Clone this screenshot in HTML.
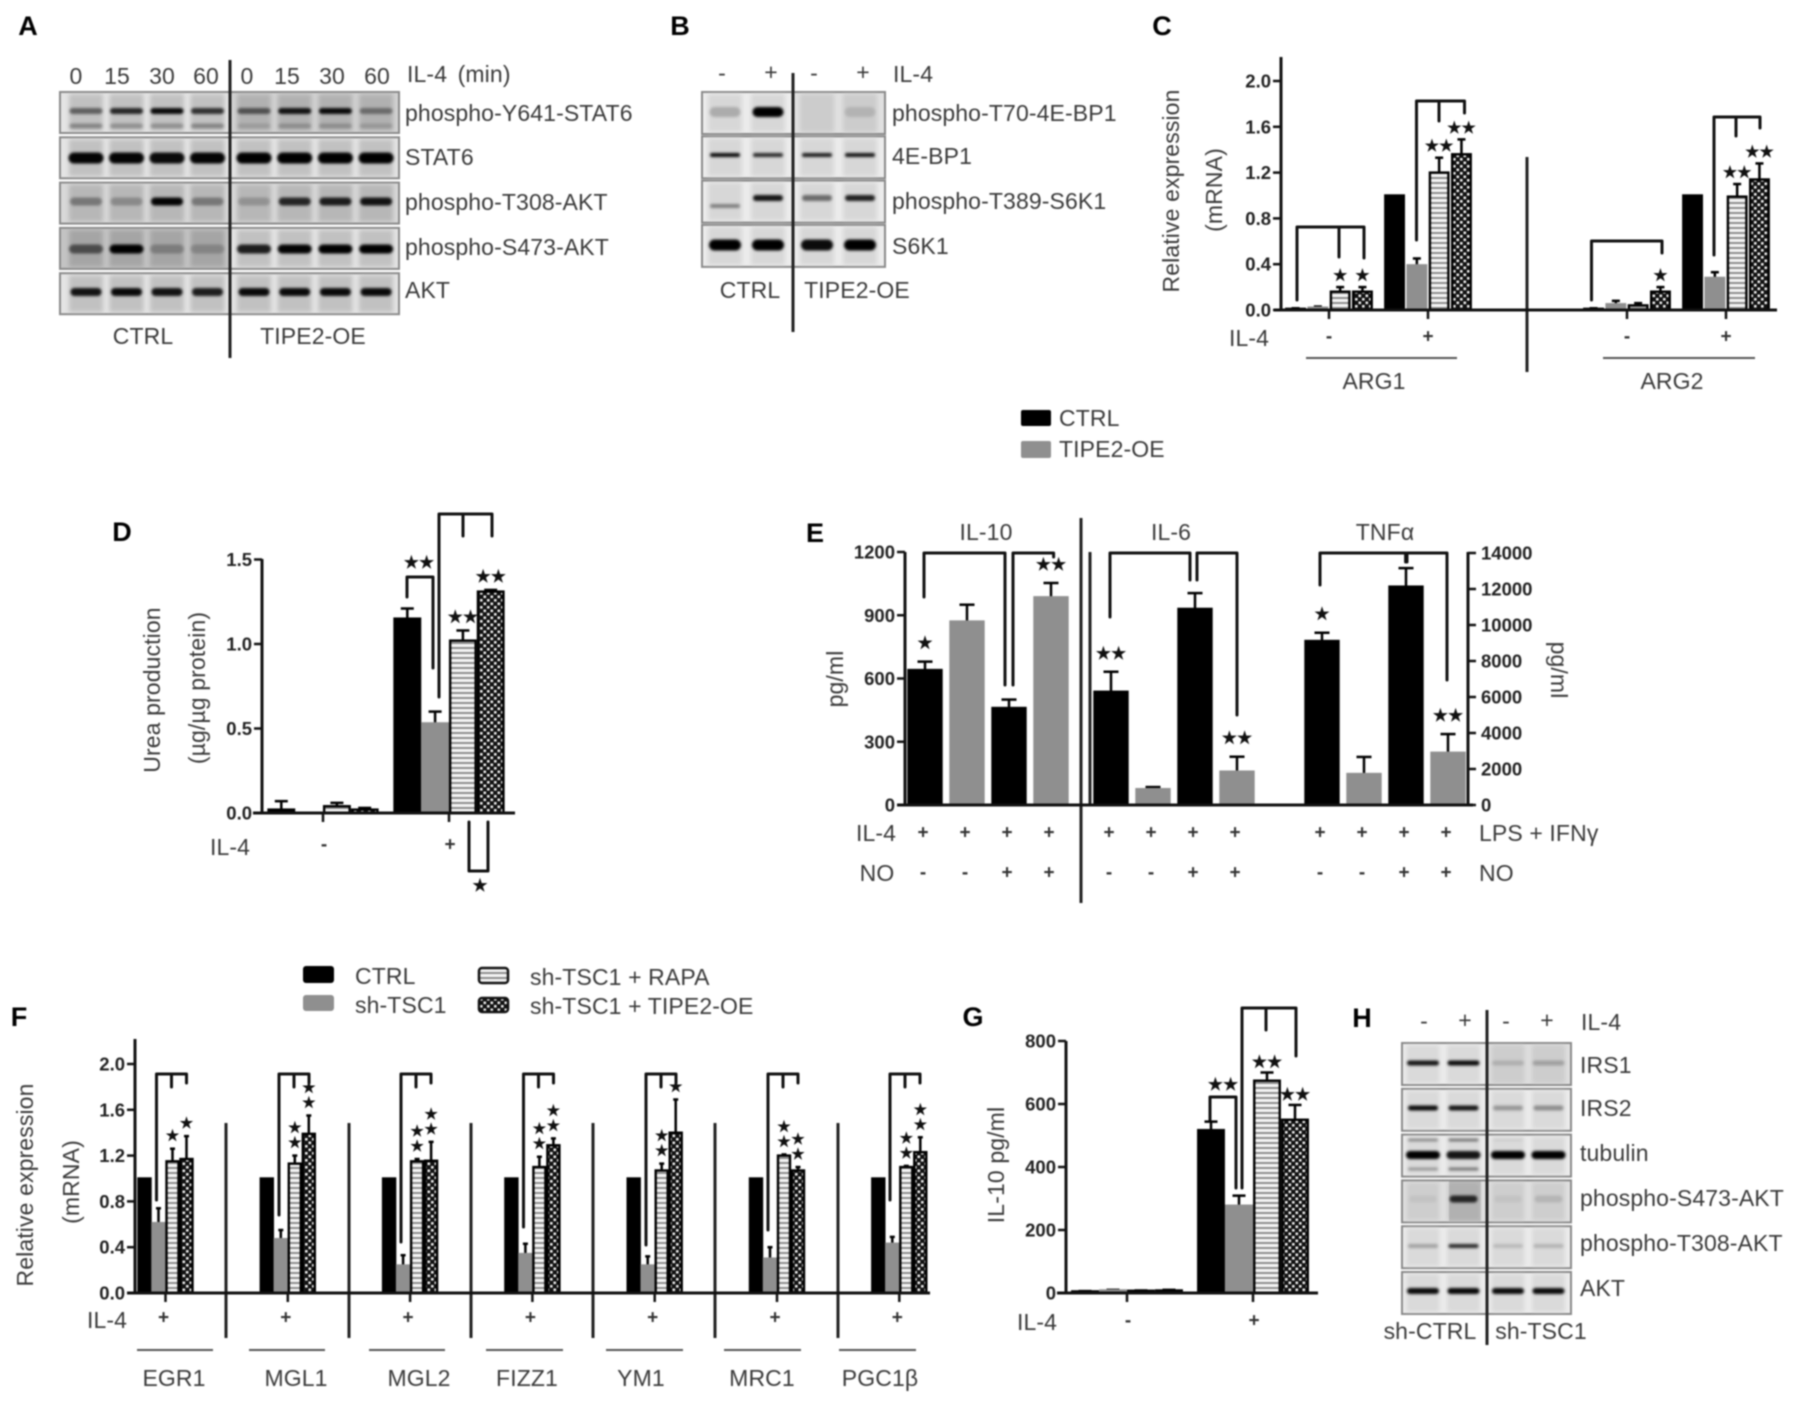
<!DOCTYPE html>
<html lang="en">
<head>
<meta charset="utf-8">
<title>TIPE2 figure panels A-H</title>
<style>
html,body{margin:0;padding:0;background:#fff;width:1795px;height:1403px;overflow:hidden}
svg{display:block;filter:blur(0.75px)}
text{font-family:"Liberation Sans",sans-serif;dominant-baseline:central;fill:#3a3a3a}
.l{font-size:23px;letter-spacing:0.12px}
.m{text-anchor:middle}
.e{text-anchor:end}
.p{font-size:27px;font-weight:bold;fill:#000;text-anchor:middle}
.t{font-size:18.5px;font-weight:bold;fill:#222;text-anchor:end}
.tm{font-size:19px;font-weight:bold;fill:#333;text-anchor:middle}
.s{font-family:"DejaVu Sans",sans-serif;font-size:16px;fill:#111;stroke:#111;stroke-width:0.6;text-anchor:middle}
.b{fill:none;stroke:#111;stroke-width:3;stroke-linejoin:round;stroke-linecap:round}
.d{stroke:#222;stroke-width:3;fill:none}
.u{stroke:#555;stroke-width:2;fill:none}
</style>
</head>
<body>
<svg id="fig" xmlns="http://www.w3.org/2000/svg" width="1795" height="1403" viewBox="0 0 1795 1403">
<defs>
<filter id="bandBlur" x="-20%" y="-100%" width="140%" height="300%"><feGaussianBlur stdDeviation="1.3"/></filter>
<filter id="laneBlur" x="-20%" y="-5%" width="140%" height="110%"><feGaussianBlur stdDeviation="2"/></filter>
<pattern id="stripes" width="5" height="5" patternUnits="userSpaceOnUse"><rect width="5" height="5" fill="#f4f4f4"/><rect y="2" width="5" height="2" fill="#8d8d8d"/></pattern>
<pattern id="checks" width="7" height="7" patternUnits="userSpaceOnUse"><rect width="7" height="7" fill="#111"/><rect x="0.5" y="0.5" width="2.6" height="2.6" fill="#eee"/><rect x="4" y="4" width="2.6" height="2.6" fill="#eee"/></pattern>
</defs>

<!-- panel letters -->
<text class="p" x="28" y="26">A</text>
<text class="p" x="680" y="26">B</text>
<text class="p" x="1162" y="26">C</text>
<text class="p" x="122" y="532">D</text>
<text class="p" x="815" y="533">E</text>
<text class="p" x="19" y="1017">F</text>
<text class="p" x="973" y="1017">G</text>
<text class="p" x="1362" y="1018">H</text>

<g id="blots"></g>

<!-- panel A text -->
<g>
<text class="l m" x="76" y="76">0</text>
<text class="l m" x="117" y="76">15</text>
<text class="l m" x="162" y="76">30</text>
<text class="l m" x="206" y="76">60</text>
<text class="l m" x="247" y="76">0</text>
<text class="l m" x="287" y="76">15</text>
<text class="l m" x="332" y="76">30</text>
<text class="l m" x="377" y="76">60</text>
<text class="l" x="407" y="74" style="word-spacing:4px">IL-4 (min)</text>
<text class="l" x="405" y="113">phospho-Y641-STAT6</text>
<text class="l" x="405" y="157">STAT6</text>
<text class="l" x="405" y="202">phospho-T308-AKT</text>
<text class="l" x="405" y="247">phospho-S473-AKT</text>
<text class="l" x="405" y="290">AKT</text>
<text class="l m" x="143" y="336">CTRL</text>
<text class="l m" x="313" y="336">TIPE2-OE</text>
</g>
<line class="d" x1="230" y1="60" x2="230" y2="358"/>

<!-- panel B text -->
<g>
<text class="l m" x="722" y="73">-</text>
<text class="l m" x="771" y="72">+</text>
<text class="l m" x="814" y="73">-</text>
<text class="l m" x="863" y="72">+</text>
<text class="l" x="893" y="74">IL-4</text>
<text class="l" x="892" y="113">phospho-T70-4E-BP1</text>
<text class="l" x="892" y="156">4E-BP1</text>
<text class="l" x="892" y="201">phospho-T389-S6K1</text>
<text class="l" x="892" y="246">S6K1</text>
<text class="l m" x="750" y="290">CTRL</text>
<text class="l m" x="857" y="290">TIPE2-OE</text>
</g>
<line class="d" x1="793" y1="73" x2="793" y2="332"/>

<!-- panel H text -->
<g>
<text class="l m" x="1424" y="1021">-</text>
<text class="l m" x="1465" y="1020">+</text>
<text class="l m" x="1506" y="1021">-</text>
<text class="l m" x="1547" y="1020">+</text>
<text class="l" x="1581" y="1022">IL-4</text>
<text class="l" x="1580" y="1065">IRS1</text>
<text class="l" x="1580" y="1108">IRS2</text>
<text class="l" x="1580" y="1153">tubulin</text>
<text class="l" x="1580" y="1198">phospho-S473-AKT</text>
<text class="l" x="1580" y="1243">phospho-T308-AKT</text>
<text class="l" x="1580" y="1288">AKT</text>
<text class="l m" x="1430" y="1331">sh-CTRL</text>
<text class="l m" x="1541" y="1331">sh-TSC1</text>
</g>
<line class="d" x1="1487" y1="1010" x2="1487" y2="1345"/>

<!-- panel C static -->
<text class="l m" transform="rotate(-90 1171 191)" x="1171" y="191">Relative expression</text>
<text class="l m" transform="rotate(-90 1214 190)" x="1214" y="190">(mRNA)</text>
<text class="l m" x="1249" y="338">IL-4</text>
<line class="d" x1="1527" y1="157" x2="1527" y2="372" stroke-width="2"/>
<line class="u" x1="1306" y1="358" x2="1457" y2="358"/>
<line class="u" x1="1603" y1="358" x2="1755" y2="358"/>
<text class="l m" x="1374" y="381">ARG1</text>
<text class="l m" x="1672" y="381">ARG2</text>
<path class="b" d="M1297 300V227H1364V258M1339 227V257"/>
<path class="b" d="M1416.5 240V101H1464.5V113M1439 101V121"/>
<path class="b" d="M1591.5 300V241H1662V253"/>
<path class="b" d="M1714 255V117H1760V128M1736 117V136"/>

<!-- legend C/E -->
<g>
<rect x="1021" y="410" width="30" height="16" rx="2" fill="#000"/>
<text class="l" x="1059" y="418">CTRL</text>
<rect x="1021" y="441" width="30" height="17" rx="2" fill="#8f8f8f"/>
<text class="l" x="1059" y="449">TIPE2-OE</text>
</g>

<!-- panel D static -->
<text class="l m" transform="rotate(-90 152 690)" x="152" y="690">Urea production</text>
<text class="l m" transform="rotate(-90 197 688)" x="197" y="688">(µg/µg protein)</text>
<text class="l m" x="230" y="847">IL-4</text>
<path class="b" d="M407 597V577H433V668"/>
<path class="b" d="M439 697V514H492V536M463 514V536"/>
<path class="b" d="M469 822V871H488V822"/>
<text class="s" x="419" y="563" style="font-size:17px">★★</text>
<text class="s" x="480" y="886" style="font-size:17px">★</text>

<!-- panel E static -->
<text class="l m" x="986" y="532">IL-10</text>
<text class="l m" x="1171" y="532">IL-6</text>
<text class="l m" x="1385" y="532">TNFα</text>
<text class="l m" transform="rotate(-90 835 679)" x="835" y="679">pg/ml</text>
<text class="l m" transform="rotate(90 1559 670)" x="1559" y="670">pg/ml</text>
<text class="l m" x="876" y="833">IL-4</text>
<text class="l m" x="877" y="873">NO</text>
<text class="l" x="1479" y="833">LPS + IFNγ</text>
<text class="l" x="1479" y="873">NO</text>
<line class="d" x1="1081" y1="518" x2="1081" y2="903"/>
<line class="d" x1="1090" y1="552" x2="1090" y2="805" stroke-width="2"/>
<path class="b" d="M924 597V553H1005V685"/>
<path class="b" d="M1013 685V553H1053.6V557"/>
<path class="b" d="M1110 617V553H1190V580"/>
<path class="b" d="M1197 580V553H1237V715"/>
<path class="b" d="M1320 585V553H1405.6V562"/>
<path class="b" d="M1407 562V553H1447V680"/>

<!-- panel F static -->
<g>
<rect x="303" y="966" width="31" height="17" rx="3" fill="#000"/>
<text class="l" x="355" y="976">CTRL</text>
<rect x="303" y="995" width="31" height="16" rx="3" fill="#8f8f8f"/>
<text class="l" x="355" y="1005">sh-TSC1</text>
<rect x="479" y="968" width="29" height="15" rx="3" fill="url(#stripes)" stroke="#111" stroke-width="2.5"/>
<text class="l" x="530" y="977">sh-TSC1 + RAPA</text>
<rect x="479" y="998" width="29" height="14" rx="3" fill="url(#checks)" stroke="#111" stroke-width="2.5"/>
<text class="l" x="530" y="1006">sh-TSC1 + TIPE2-OE</text>
</g>
<text class="l m" transform="rotate(-90 25 1185)" x="25" y="1185">Relative expression</text>
<text class="l m" transform="rotate(-90 71 1182)" x="71" y="1182">(mRNA)</text>
<text class="l m" x="107" y="1320">IL-4</text>
<path class="b" d="M156.5 1200V1074H186.5V1083M171.5 1074V1087"/>
<path class="b" d="M279 1215V1074H309V1083M294 1074V1087"/>
<path class="b" d="M401 1242V1074H431V1083M416 1074V1087"/>
<path class="b" d="M523.5 1227V1074H553.5V1083M538.5 1074V1087"/>
<path class="b" d="M646 1245V1074H676V1083M661 1074V1087"/>
<path class="b" d="M768 1230V1074H798V1083M783 1074V1087"/>
<path class="b" d="M890 1200V1074H920V1083M905 1074V1087"/>
<line class="d" x1="226" y1="1123" x2="226" y2="1338"/>
<line class="d" x1="349" y1="1123" x2="349" y2="1338"/>
<line class="d" x1="471" y1="1123" x2="471" y2="1338"/>
<line class="d" x1="593" y1="1123" x2="593" y2="1338"/>
<line class="d" x1="715" y1="1123" x2="715" y2="1338"/>
<line class="d" x1="838" y1="1123" x2="838" y2="1338"/>
<line class="u" x1="137" y1="1350" x2="213" y2="1350"/>
<line class="u" x1="249" y1="1350" x2="325" y2="1350"/>
<line class="u" x1="369" y1="1350" x2="445" y2="1350"/>
<line class="u" x1="486" y1="1350" x2="563" y2="1350"/>
<line class="u" x1="606" y1="1350" x2="683" y2="1350"/>
<line class="u" x1="724" y1="1350" x2="801" y2="1350"/>
<line class="u" x1="839" y1="1350" x2="916" y2="1350"/>
<text class="l m" x="174" y="1378">EGR1</text>
<text class="l m" x="296" y="1378">MGL1</text>
<text class="l m" x="419" y="1378">MGL2</text>
<text class="l m" x="527" y="1378">FIZZ1</text>
<text class="l m" x="641" y="1378">YM1</text>
<text class="l m" x="762" y="1378">MRC1</text>
<text class="l m" x="880" y="1378">PGC1β</text>

<!-- panel G static -->
<text class="l m" transform="rotate(-90 996 1165)" x="996" y="1165">IL-10 pg/ml</text>
<text class="l m" x="1037" y="1322">IL-4</text>
<path class="b" d="M1210 1120V1097H1236V1188"/>
<path class="b" d="M1242 1188V1008H1296V1056M1266 1008V1030"/>
<text class="s" x="1223" y="1085" style="font-size:17px">★★</text>

<g id="charts"></g>
</svg>

<script>
/* ---------- Panel C data ---------- */
const cTreatments = ['-', '+', '-', '+'];
const cTicks = ['0.0', '0.4', '0.8', '1.2', '1.6', '2.0'];
const cArg1Minus = [0.01, 0.02, 0.16, 0.16];
const cArg1MinusErr = [0.005, 0.01, 0.04, 0.04];
const cArg1MinusStars = [0, 0, 1, 1];
const cArg1Plus = [1.0, 0.39, 1.2, 1.36];
const cArg1PlusErr = [0, 0.06, 0.13, 0.13];
const cArg1PlusStars = [0, 0, 2, 2];
const cArg2Minus = [0.01, 0.05, 0.04, 0.16];
const cArg2MinusErr = [0.005, 0.03, 0.02, 0.04];
const cArg2MinusStars = [0, 0, 0, 1];
const cArg2Plus = [1.0, 0.28, 0.99, 1.14];
const cArg2PlusErr = [0, 0.05, 0.11, 0.14];
const cArg2PlusStars = [0, 0, 2, 2];

/* ---------- Panel D data ---------- */
const dTreatments = ['-', '+'];
const dTicks = ['0.0', '0.5', '1.0', '1.5'];
const dMinus = [0.02, 0, 0.04, 0.02];
const dMinusErr = [0.05, 0, 0.02, 0.01];
const dMinusStars = [0, 0, 0, 0];
const dPlus = [1.15, 0.53, 1.02, 1.31];
const dPlusErr = [0.06, 0.07, 0.06, 0.01];
const dPlusStars = [0, 0, 2, 2];

/* ---------- Panel E data ---------- */
const eLeftTicks = ['0', '300', '600', '900', '1200'];
const eRightTicks = ['0', '2000', '4000', '6000', '8000', '10000', '12000', '14000'];
const eIl4Row = ['+', '+', '+', '+'];
const eNoRow = ['-', '-', '+', '+'];
const eIl10 = [640, 870, 460, 985];
const eIl10Err = [40, 80, 40, 68];
const eIl10Stars = [1, 0, 0, 2];
const eIl6 = [537, 75, 930, 158];
const eIl6Err = [95, 10, 75, 71];
const eIl6Stars = [2, 0, 0, 2];
const eTnf = [9110, 1720, 12130, 2900];
const eTnfErr = [460, 950, 1030, 1040];
const eTnfStars = [1, 0, 0, 2];

/* ---------- Panel F data ---------- */
const fTicks = ['0.0', '0.4', '0.8', '1.2', '1.6', '2.0'];
const fEgr1 = [1, 0.61, 1.15, 1.17];
const fEgr1Err = [0, 0.13, 0.11, 0.2];
const fEgr1Stars = [0, 0, 1, 1];
const fMgl1 = [1, 0.47, 1.13, 1.39];
const fMgl1Err = [0, 0.08, 0.07, 0.16];
const fMgl1Stars = [0, 0, 2, 2];
const fMgl2 = [1, 0.24, 1.15, 1.155];
const fMgl2Err = [0, 0.09, 0.02, 0.165];
const fMgl2Stars = [0, 0, 2, 2];
const fFizz1 = [1, 0.34, 1.1, 1.29];
const fFizz1Err = [0, 0.09, 0.09, 0.06];
const fFizz1Stars = [0, 0, 2, 2];
const fYm1 = [1, 0.24, 1.07, 1.4];
const fYm1Err = [0, 0.08, 0.06, 0.29];
const fYm1Stars = [0, 0, 2, 1];
const fMrc1 = [1, 0.3, 1.2, 1.07];
const fMrc1Err = [0, 0.1, 0.01, 0.03];
const fMrc1Stars = [0, 0, 2, 2];
const fPgc1b = [1, 0.43, 1.1, 1.23];
const fPgc1bErr = [0, 0.06, 0.01, 0.13];
const fPgc1bStars = [0, 0, 2, 2];

/* ---------- Panel G data ---------- */
const gTreatments = ['-', '+'];
const gTicks = ['0', '200', '400', '600', '800'];
const gMinus = [5, 8, 7, 8];
const gMinusErr = [1, 2, 1, 2];
const gMinusStars = [0, 0, 0, 0];
const gPlus = [517, 277, 674, 550];
const gPlusErr = [27, 32, 26, 47];
const gPlusStars = [0, 0, 2, 2];

/* ---------- Blot band intensities (0-1) per lane ---------- */
const aY641Upper = [0.5, 0.8, 0.95, 0.75, 0.55, 0.9, 0.95, 0.4];
const aY641Lower = [0.3, 0.25, 0.25, 0.3, 0.12, 0.2, 0.2, 0.15];
const aStat6 = [0.98, 0.98, 0.95, 0.98, 1, 1, 1, 1];
const aT308 = [0.35, 0.25, 0.98, 0.35, 0.2, 0.8, 0.85, 0.9];
const aS473 = [0.55, 1, 0.25, 0.2, 0.85, 0.98, 1, 1];
const aAkt = [0.9, 0.95, 0.9, 0.85, 0.95, 0.95, 0.95, 0.95];
const bT70 = [0.2, 1, 0, 0.12];
const b4ebp1 = [0.95, 0.8, 0.85, 0.9];
const bT389Lower = [0.4, 0, 0, 0];
const bT389 = [0, 0.9, 0.5, 0.85];
const bS6k1 = [1, 1, 0.95, 1];
const hIrs1 = [0.9, 0.95, 0.15, 0.22];
const hIrs2 = [0.95, 0.9, 0.3, 0.35];
const hTubulin = [1, 0.9, 1, 1];
const hTubulinUpper = [0.35, 0.45, 0.05, 0];
const hTubulinLower = [0.3, 0.45, 0, 0];
const hS473 = [0.05, 0.8, 0.05, 0.12];
const hT308 = [0.25, 0.8, 0.15, 0.18];
const hAkt = [0.95, 0.97, 0.95, 0.95];

/* ---------- helpers ---------- */
const NS = 'http://www.w3.org/2000/svg';
const charts = document.getElementById('charts');
const blots = document.getElementById('blots');
function mk(tag, attrs, parent) {
  const el = document.createElementNS(NS, tag);
  for (const k in attrs) el.setAttribute(k, attrs[k]);
  (parent || charts).appendChild(el);
  return el;
}
function label(x, y, str, cls, name, parent) {
  const t = mk('text', {x: x, y: y, class: cls}, parent);
  t.textContent = str;
  
  
  return t;
}
function yAxis(cfg) {
  const line = mk('line', {x1: cfg.x, x2: cfg.x, y1: cfg.top, y2: cfg.bottom, stroke: '#111', 'stroke-width': 3});
  
  
  cfg.ticks.forEach(function (tk) {
    const y = cfg.scale(parseFloat(tk));
    const dir = cfg.right ? 1 : -1;
    const m = mk('line', {x1: cfg.x, x2: cfg.x + dir * 8, y1: y, y2: y, stroke: '#111', 'stroke-width': 2.5});
    
    
    const lx = cfg.right ? cfg.x + 13 : cfg.x - 10;
    const t = label(lx, y, tk, 't', cfg.name + '-tick-label');
    if (cfg.right) t.style.textAnchor = 'start';
  });
}
function xAxis(x1, x2, y, name) {
  const line = mk('line', {x1: x1, x2: x2, y1: y, y2: y, stroke: '#111', 'stroke-width': 3});
  
  
}
const FILLS = {
  black: {fill: '#000', stroke: '#000'},
  gray: {fill: '#8f8f8f', stroke: '#8f8f8f'},
  stripes: {fill: 'url(#stripes)', stroke: '#000'},
  checks: {fill: 'url(#checks)', stroke: '#000'}
};
function drawGroup(cfg) {
  const n = cfg.vals.length;
  cfg.vals.forEach(function (v, i) {
    const cx = cfg.center + (i - (n - 1) / 2) * cfg.step;
    const top = cfg.y(v);
    const base = cfg.y(0);
    const st = FILLS[cfg.fills[i]];
    const e = cfg.errs[i];
    const errTop = cfg.y(v + e);
    if (e > 0) {
      const stem = mk('line', {x1: cx, x2: cx, y1: top, y2: errTop, stroke: '#000', 'stroke-width': 2.5});
      
      
      const cap = mk('line', {x1: cx - cfg.cap / 2, x2: cx + cfg.cap / 2, y1: errTop, y2: errTop, stroke: '#000', 'stroke-width': 2.5});
      
      
    }
    const r = mk('rect', {x: cx - cfg.width / 2, y: top, width: cfg.width, height: Math.max(base - top, 0), fill: st.fill, stroke: st.stroke, 'stroke-width': 2.4});
    
    
    const count = cfg.stars[i];
    if (count > 0) {
      if (cfg.stack) {
        for (let k = 0; k < count; k++) {
          const s = label(cx, errTop - cfg.gap - k * 15, '★', 's', cfg.name + '-significance-' + i);
          s.style.fontSize = cfg.starSize + 'px';
        }
      } else {
        const s = label(cx, errTop - cfg.gap, count === 2 ? '★★' : '★', 's', cfg.name + '-significance-' + i);
        s.style.fontSize = cfg.starSize + 'px';
      }
    }
  });
  if (cfg.tick) {
    const t = mk('line', {x1: cfg.center, x2: cfg.center, y1: cfg.y(0), y2: cfg.y(0) + 9, stroke: '#111', 'stroke-width': 2.5});
    
    
  }
}
const STD = ['black', 'gray', 'stripes', 'checks'];

/* ---------- Panel C ---------- */
const cY = function (v) { return 310 - v * 114.5; };
const cX = function (i) { return 1329 + (i >> 1) * 298 + (i & 1) * 99; };
[[cArg1Minus, cArg1MinusErr, cArg1MinusStars, 'c-arg1-minus'],
 [cArg1Plus, cArg1PlusErr, cArg1PlusStars, 'c-arg1-plus'],
 [cArg2Minus, cArg2MinusErr, cArg2MinusStars, 'c-arg2-minus'],
 [cArg2Plus, cArg2PlusErr, cArg2PlusStars, 'c-arg2-plus']].forEach(function (g, i) {
  drawGroup({name: g[3], vals: g[0], errs: g[1], stars: g[2], center: cX(i), step: 22.3, width: 18.5, cap: 8, y: cY, fills: STD, gap: 12, starSize: 16, tick: true});
  label(cX(i), 337, cTreatments[i], 'tm', g[3] + '-treatment');
});
xAxis(1274, 1777, 310, 'c-x-axis');
yAxis({name: 'c-y', x: 1281, top: 57, bottom: 310, ticks: cTicks, scale: cY});

/* ---------- Panel D ---------- */
const dY = function (v) { return 813 - v * 169; };
const dX = function (i) { return 323 + 126 * i; };
[[dMinus, dMinusErr, dMinusStars, 'd-minus'], [dPlus, dPlusErr, dPlusStars, 'd-plus']].forEach(function (g, i) {
  drawGroup({name: g[3], vals: g[0], errs: g[1], stars: g[2], center: dX(i), step: 27.8, width: 25.5, cap: 13, y: dY, fills: STD, gap: 13, starSize: 17, tick: true});
  label(dX(i) + 1, 845, dTreatments[i], 'tm', g[3] + '-treatment');
});
xAxis(253, 515, 813, 'd-x-axis');
yAxis({name: 'd-y', x: 262, top: 559, bottom: 813, ticks: dTicks, scale: dY});

/* ---------- Panel E ---------- */
const eYLeft = function (v) { return 805 - v * 253 / 1200; };
const eYRight = function (v) { return 805 - v * 252 / 14000; };
const eX = function (i) { return 988 + 186 * i + (i === 2 ? 25 : 0); };
const EFILL = ['black', 'gray', 'black', 'gray'];
[[eIl10, eIl10Err, eIl10Stars, 'e-il10', eYLeft], [eIl6, eIl6Err, eIl6Stars, 'e-il6', eYLeft], [eTnf, eTnfErr, eTnfStars, 'e-tnf', eYRight]].forEach(function (g, i) {
  drawGroup({name: g[3], vals: g[0], errs: g[1], stars: g[2], center: eX(i), step: 42, width: 33, cap: 15, y: g[4], fills: EFILL, gap: 18, starSize: 17, tick: false});
  eIl4Row.forEach(function (m, k) {
    label(eX(i) + (k - 1.5) * 42 - 2, 833, m, 'tm', g[3] + '-il4-mark');
  });
  eNoRow.forEach(function (m, k) {
    label(eX(i) + (k - 1.5) * 42 - 2, 873, m, 'tm', g[3] + '-no-mark');
  });
});
xAxis(897, 1473, 805, 'e-x-axis');
yAxis({name: 'e-left-y', x: 905, top: 552, bottom: 805, ticks: eLeftTicks, scale: eYLeft});
yAxis({name: 'e-right-y', x: 1468, top: 552, bottom: 805, ticks: eRightTicks, scale: eYRight, right: true});

/* ---------- Panel F ---------- */
const fY = function (v) { return 1293 - v * 114.5; };
const fX = function (i) { return 165.5 + 122.3 * i; };
[[fEgr1, fEgr1Err, fEgr1Stars, 'f-egr1'], [fMgl1, fMgl1Err, fMgl1Stars, 'f-mgl1'], [fMgl2, fMgl2Err, fMgl2Stars, 'f-mgl2'],
 [fFizz1, fFizz1Err, fFizz1Stars, 'f-fizz1'], [fYm1, fYm1Err, fYm1Stars, 'f-ym1'], [fMrc1, fMrc1Err, fMrc1Stars, 'f-mrc1'], [fPgc1b, fPgc1bErr, fPgc1bStars, 'f-pgc1b']].forEach(function (g, i) {
  drawGroup({name: g[3], vals: g[0], errs: g[1], stars: g[2], center: fX(i), step: 14, width: 12, cap: 5, y: fY, fills: STD, gap: 13, starSize: 15, stack: true, tick: true});
  label(fX(i) - 2, 1318, '+', 'tm', g[3] + '-treatment');
});
xAxis(127, 930, 1293, 'f-x-axis');
yAxis({name: 'f-y', x: 135, top: 1039, bottom: 1293, ticks: fTicks, scale: fY});

/* ---------- Panel G ---------- */
const gY = function (v) { return 1293 - v * 252 / 800; };
const gX = function (i) { return 1127 + 126 * i; };
[[gMinus, gMinusErr, gMinusStars, 'g-minus'], [gPlus, gPlusErr, gPlusStars, 'g-plus']].forEach(function (g, i) {
  drawGroup({name: g[3], vals: g[0], errs: g[1], stars: g[2], center: gX(i), step: 28, width: 25.5, cap: 13, y: gY, fills: STD, gap: 10, starSize: 17, tick: true});
  label(gX(i) + 1, 1321, gTreatments[i], 'tm', g[3] + '-treatment');
});
xAxis(1057, 1318, 1293, 'g-x-axis');
yAxis({name: 'g-y', x: 1066, top: 1041, bottom: 1293, ticks: gTicks, scale: gY});

/* ---------- Blots ---------- */
function blotRow(cfg) {
  const bg = mk('rect', {x: cfg.x0, y: cfg.top, width: cfg.x1 - cfg.x0, height: cfg.h, fill: cfg.bg, stroke: '#8a8a8a', 'stroke-width': 2}, blots);
  
  
  const lanes = mk('g', {filter: 'url(#laneBlur)'}, blots);
  
  
  for (let i = 0; i < cfg.count; i++) {
    const l = mk('rect', {x: cfg.lane(i) - cfg.w / 2, y: cfg.top + 2, width: cfg.w, height: cfg.h - 4, fill: cfg.laneFill, opacity: cfg.laneOpacity}, lanes);
    
    
  }
}
function tint(name, x, y, w, h, shade) {
  const r = mk('rect', {x: x, y: y, width: w, height: h, fill: '#000', opacity: shade}, blots);
  
  
}
function bands(name, vals, lane, y, w, h) {
  const g = mk('g', {filter: 'url(#bandBlur)'}, blots);
  
  
  vals.forEach(function (v, i) {
    if (v <= 0) return;
    const r = mk('rect', {x: lane(i) - w / 2, y: y - h / 2, width: w, height: h, rx: h / 2, fill: '#000', opacity: v}, g);
    
    
  });
}
const aLane = function (i) { return i < 4 ? 86 + 40.5 * i : 254 + 40.7 * (i - 4); };
const bLane = function (i) { return 725 + 43 * i + (i > 1 ? 6 : 0); };
const hLane = function (i) { return 1423 + 40.5 * i + (i > 1 ? 4 : 0); };
['a-y641', 'a-stat6', 'a-t308', 'a-s473', 'a-akt'].forEach(function (nm, i) {
  blotRow({name: nm, x0: 60, x1: 399, top: 92 + 45.3 * i, h: 41, bg: '#e4e4e4', lane: aLane, count: 8, w: 34, laneFill: '#b5b5b5', laneOpacity: 0.75});
});
tint('a-s473-ctrl', 61, 229, 169, 39, 0.14);
tint('a-t308-all', 61, 184, 337, 39, 0.05);
tint('a-y641-tipe', 231, 93, 167, 39, 0.08);
bands('a-y641-upper', aY641Upper, aLane, 111, 33, 6);
bands('a-y641-lower', aY641Lower, aLane, 126, 33, 5);
bands('a-stat6', aStat6, aLane, 158, 35, 11);
bands('a-t308', aT308, aLane, 201.5, 32, 8);
bands('a-s473', aS473, aLane, 249, 34, 9);
bands('a-akt', aAkt, aLane, 292, 31, 8);
['b-t70', 'b-4ebp1', 'b-t389', 'b-s6k1'].forEach(function (nm, i) {
  blotRow({name: nm, x0: 702, x1: 885, top: 92 + 44.3 * i, h: 42, bg: '#ececec', lane: bLane, count: 4, w: 34, laneFill: '#cfcfcf', laneOpacity: 0.7});
});
tint('b-t70-tipe', 794, 93, 90, 40, 0.05);
bands('b-t70', bT70, bLane, 112, 31, 10);
bands('b-4ebp1', b4ebp1, bLane, 155, 30, 4);
bands('b-t389-lower', bT389Lower, bLane, 206, 30, 4);
bands('b-t389', bT389, bLane, 198, 30, 6);
bands('b-s6k1', bS6k1, bLane, 245, 32, 11);
['h-irs1', 'h-irs2', 'h-tubulin', 'h-s473', 'h-t308', 'h-akt'].forEach(function (nm, i) {
  blotRow({name: nm, x0: 1402, x1: 1571, top: 1043 + 45.8 * i, h: 42, bg: '#ececec', lane: hLane, count: 4, w: 33, laneFill: '#d2d2d2', laneOpacity: 0.7});
});
tint('h-irs1-tsc1', 1488, 1044, 82, 40, 0.06);
tint('h-s473', 1403, 1181, 167, 40, 0.05);
tint('h-s473-lane2', 1449, 1181, 32, 40, 0.14);
bands('h-irs1', hIrs1, hLane, 1063, 32, 5);
bands('h-irs2', hIrs2, hLane, 1108, 30, 5);
bands('h-tubulin', hTubulin, hLane, 1155, 34, 8);
bands('h-tubulin-upper', hTubulinUpper, hLane, 1140, 30, 3);
bands('h-tubulin-lower', hTubulinLower, hLane, 1169, 30, 3);
bands('h-s473', hS473, hLane, 1199, 28, 7);
bands('h-t308', hT308, hLane, 1246, 30, 4);
bands('h-akt', hAkt, hLane, 1291, 32, 6);
</script>
</body>
</html>
